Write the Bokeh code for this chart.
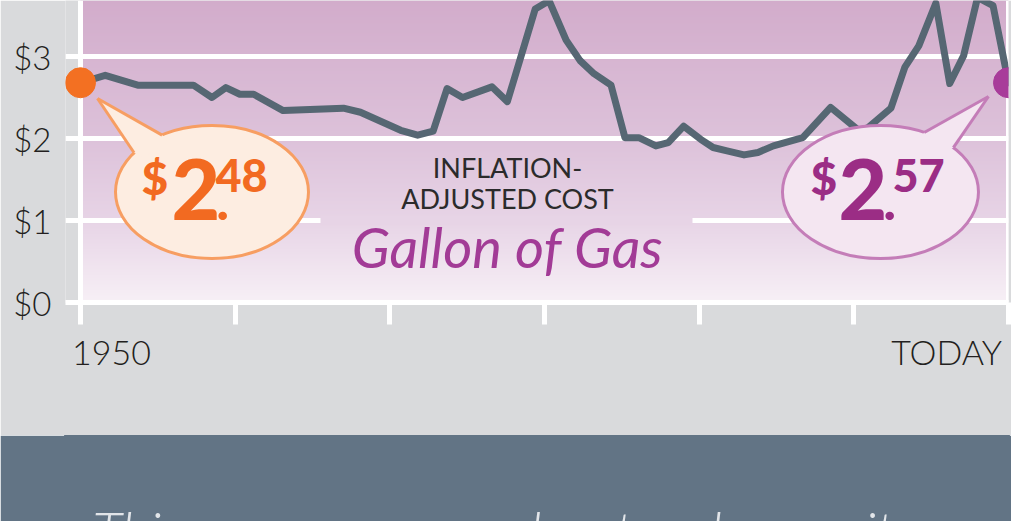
import numpy as np
from bokeh.plotting import figure
from bokeh.models import Range1d, FixedTicker, Span, LinearAxis
from bokeh.layouts import column
from bokeh.core.properties import value
from bokeh.embed import file_html
from bokeh.resources import INLINE

# ---------------- data ----------------
YEARS = [1950.0, 1951.6, 1953.7, 1957.3, 1958.5, 1959.4, 1960.3, 1961.2, 1963.1,
         1967.0, 1968.1, 1970.7, 1971.8, 1972.8, 1973.7, 1974.7, 1976.6, 1977.6,
         1978.4, 1979.4, 1980.3, 1981.4, 1982.3, 1983.2, 1984.3, 1985.2, 1986.1,
         1987.2, 1988.0, 1989.0, 1990.1, 1990.9, 1991.8, 1992.9, 1993.8, 1994.8,
         1996.7, 1998.5, 2000.3, 2000.9, 2002.4, 2003.3, 2004.2, 2005.3, 2006.2,
         2007.1, 2008.0, 2009.0, 2010.0]
PRICES = [2.68, 2.77, 2.65, 2.65, 2.50, 2.62, 2.54, 2.54, 2.34,
          2.37, 2.32, 2.10, 2.04, 2.09, 2.61, 2.50, 2.63, 2.45,
          2.95, 3.58, 3.68, 3.20, 2.95, 2.79, 2.65, 2.01, 2.01,
          1.91, 1.95, 2.15, 1.99, 1.89, 1.85, 1.80, 1.83, 1.91,
          2.01, 2.38, 2.10, 2.13, 2.37, 2.87, 3.13, 3.65, 2.67,
          3.01, 3.72, 3.62, 2.68]

Y_TICKS = [0, 1, 2, 3]
Y_TICK_LABELS = ["$0", "$1", "$2", "$3"]
X_TICKS = [1950, 1960, 1970, 1980, 1990, 2000, 2010]
X_LABEL_AT = [1952, 2006]
X_LABELS = ["1950", "TODAY"]
START_PRICE_PARTS = ["$", "2", ".", "48"]
END_PRICE_PARTS = ["$", "2", ".", "57"]
TITLE_LINES = ["INFLATION-", "ADJUSTED COST"]
SUBJECT = "Gallon of Gas"
FOOTER = "This year, gas was about as low as it was with"

# ---------------- style / layout ----------------
PX_YR = 15.467                 # px per year
PX_USD = 82.0                  # px per dollar
W, H_TOP, H_BOT = 1011, 435, 86
GRAY = "#D9DADC"
SLATE = "#627485"
LINE_C = "#566773"
ORANGE = "#F26A21"
MAGENTA = "#A23B96"
DEEP = "#9B2D85"
INK = "#231F20"
FONT = "Lato"
FONT_LIGHT = "Lato Light"
FONT_HEAVY = "Lato Black"
BASE_SHIFT = 0.37              # em offset of bokeh's text anchor above the baseline


def rx(px):
    return 1950 + (px - 80) / PX_YR


def ry(px):
    return (302 - px) / PX_USD


def tb(px, size):
    """data y for a text whose alphabetic baseline should sit at pixel row px"""
    return ry(px - BASE_SHIFT * size)


def fs(px):
    return f"{px:.0f}px"


p = figure(width=W, height=H_TOP, x_range=Range1d(rx(65), 2010), y_range=Range1d(0, ry(0)),
           output_backend="svg", toolbar_location=None,
           min_border_left=65, min_border_right=3, min_border_top=0, min_border_bottom=133,
           background_fill_color=GRAY, border_fill_color=GRAY, outline_line_color=None)

# gradient background of the plot area
STOPS_PX = [0, 140, 220, 302]
STOPS_RGB = [(210, 172, 203), (221, 194, 218), (231, 212, 230), (247, 240, 246)]


def grad(px):
    return tuple(int(round(np.interp(px, STOPS_PX, [c[i] for c in STOPS_RGB]))) for i in range(3))


N = 302
vals = (np.arange(N) + 0.5) / N * ry(0)
img = np.empty((N, 1), dtype=np.uint32)
view = img.view(dtype=np.uint8).reshape((N, 1, 4))
for i, v in enumerate(vals):
    r, g, b = grad(302 - v * PX_USD)
    view[i, 0, :] = (r, g, b, 255)
p.image_rgba(image=[img], x=1950, y=0, dw=60, dh=ry(0), level="image")

# grid
p.xgrid.visible = False
p.ygrid.ticker = FixedTicker(ticks=Y_TICKS)
p.ygrid.grid_line_color = "white"
p.ygrid.grid_line_width = 5

# knock-out of the $1 gridline behind the title
kr, kg, kb = grad(220)
p.quad(left=rx(320), right=rx(692), bottom=0.94, top=1.06,
       fill_color=f"#{kr:02x}{kg:02x}{kb:02x}", line_color=None)

for loc in (1950, 2010):
    p.add_layout(Span(location=loc, dimension="height", line_color="white",
                      line_width=5, level="underlay"))

# y axis
yax = p.yaxis[0]
yax.ticker = FixedTicker(ticks=Y_TICKS)
yax.major_label_overrides = dict(zip(Y_TICKS, Y_TICK_LABELS))
yax.axis_line_color = None
yax.major_tick_line_color = None
yax.minor_tick_line_color = None
yax.major_tick_out = 0
yax.major_tick_in = 0
yax.major_label_standoff = 14
yax.major_label_text_font = FONT_LIGHT
yax.major_label_text_font_size = fs(33)
yax.major_label_text_color = INK

# x axis (ticks)
xax = p.xaxis[0]
xax.ticker = FixedTicker(ticks=X_TICKS)
xax.major_label_overrides = {t: "" for t in X_TICKS}
xax.major_label_text_font_size = "0px"
xax.major_label_standoff = 0
xax.axis_line_color = "white"
xax.axis_line_width = 5
xax.major_tick_line_color = "white"
xax.major_tick_line_width = 5
xax.major_tick_out = 22
xax.major_tick_in = 0
xax.minor_tick_line_color = None

# x axis (labels)
lab = LinearAxis(ticker=FixedTicker(ticks=X_LABEL_AT),
                 major_label_overrides=dict(zip(X_LABEL_AT, X_LABELS)),
                 axis_line_color=None, major_tick_line_color=None, minor_tick_line_color=None,
                 major_tick_out=0, major_tick_in=0, major_label_standoff=6,
                 major_label_text_font=FONT_LIGHT, major_label_text_font_size=fs(34),
                 major_label_text_color=INK)
p.add_layout(lab, "below")

# the price line
p.line(YEARS, PRICES, line_color=LINE_C, line_width=7, line_join="round", line_cap="round")


def bubble(c, rad, tip, b1, b2, fill, stroke):
    cx, cy = rx(c[0]), ry(c[1])
    w, h = 2 * rad[0] / PX_YR, 2 * rad[1] / PX_USD

    def on_ellipse(pt):
        x, y = rx(pt[0]), ry(pt[1])
        t = np.arctan2((y - cy) / (h / 2), (x - cx) / (w / 2))
        return cx + w / 2 * np.cos(t), cy + h / 2 * np.sin(t)

    tx, ty = rx(tip[0]), ry(tip[1])
    p1 = on_ellipse(b1)
    p2_ = on_ellipse(b2)
    i1 = (p1[0] + (cx - p1[0]) * 0.12, p1[1] + (cy - p1[1]) * 0.12)
    i2 = (p2_[0] + (cx - p2_[0]) * 0.12, p2_[1] + (cy - p2_[1]) * 0.12)
    p.ellipse(x=cx, y=cy, width=w, height=h, fill_color=fill, line_color=stroke, line_width=3)
    p.patch([p1[0], tx, p2_[0], i2[0], i1[0]], [p1[1], ty, p2_[1], i2[1], i1[1]],
            fill_color=fill, line_color=None)
    p.multi_line([[p1[0], tx], [p2_[0], tx]], [[p1[1], ty], [p2_[1], ty]],
                 line_color=stroke, line_width=3, line_join="miter")


bubble((211.5, 191.5), (96.5, 66.5), (97, 98), (133, 152), (162, 135), "#FDEDE1", "#F79E62")
bubble((880, 191.5), (98, 66.5), (988, 96), (923, 133), (953, 147), "#F4E6F1", "#C47DB8")


def price_text(parts, xs_px, color):
    sizes = [46, 84, 52, 45]
    bases = [194, 220, 220, 192]
    for part, xpx, sz, bpx in zip(parts, xs_px, sizes, bases):
        p.text(x=[rx(xpx)], y=[tb(bpx, sz)], text=[part], text_font=value(FONT_HEAVY),
               text_font_size=fs(sz), text_color=color,
               text_align="left", text_baseline="alphabetic")


price_text(START_PRICE_PARTS, [141, 171, 216, 215], ORANGE)
price_text(END_PRICE_PARTS, [810, 838, 883, 892], DEEP)

# endpoint dots
p.scatter([YEARS[0]], [PRICES[0]], size=30, color="#F37022")
p.scatter([YEARS[-1]], [PRICES[-1]], size=30, color="#A83C9A")

# title block
p.text(x=[rx(507)] * 2, y=[tb(177, 27), tb(208, 27)], text=TITLE_LINES, text_font=value(FONT),
       text_font_size=fs(27), text_color="#2B2B2B", text_align="center",
       text_baseline="alphabetic")
p.text(x=[rx(507)], y=[tb(267, 56)], text=[SUBJECT], text_font=value(FONT),
       text_font_style="italic", text_font_size=fs(56), text_color=MAGENTA,
       text_align="center", text_baseline="alphabetic")

# bottom band
p2 = figure(width=W, height=H_BOT, x_range=Range1d(0, W - 68), y_range=Range1d(0, H_BOT),
            output_backend="svg", toolbar_location=None,
            min_border_left=65, min_border_right=3, min_border_top=0, min_border_bottom=0,
            background_fill_color=SLATE, border_fill_color=SLATE,
            outline_line_color=SLATE, outline_line_width=3)
p2.axis.visible = False
p2.grid.visible = False
p2.text(x=[92 - 65], y=[H_BOT - (508 - 435) + 11], text=[FOOTER], text_font=value(FONT_LIGHT),
        text_font_style="italic", text_font_size=fs(55), text_color="#E2E5E9",
        text_align="left", text_baseline="top")

layout = column(p, p2)
open("out.html", "w").write(file_html(layout, INLINE))
